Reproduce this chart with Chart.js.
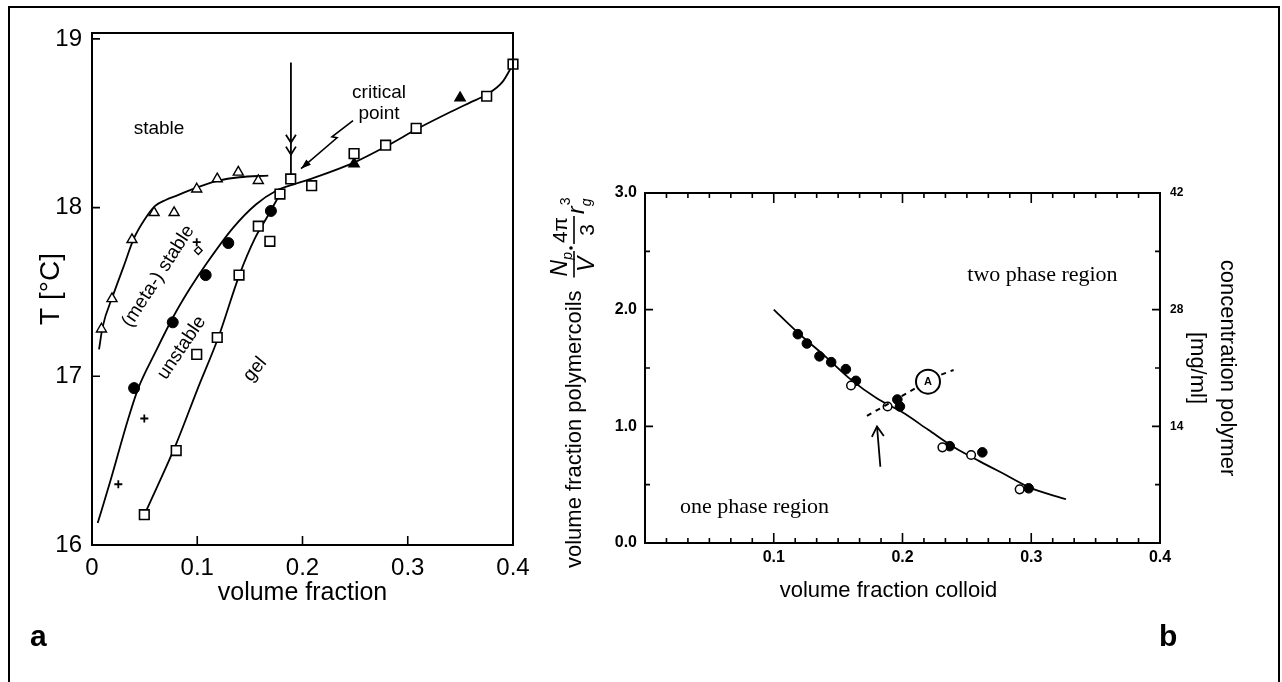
<!DOCTYPE html>
<html>
<head>
<meta charset="utf-8">
<script src="https://cdn.jsdelivr.net/npm/chart.js@4.4.1/dist/chart.umd.min.js"></script>
<style>
  body { margin: 0; background: #fff; width: 1282px; height: 682px; overflow: hidden; position: relative; font-family: "Liberation Sans", Arial, sans-serif; }
  #frame { position: absolute; left: 8px; top: 6px; width: 1272px; height: 700px; border: 2px solid #000; box-sizing: border-box; }
  canvas { position: absolute; top: 0; }
  #left { left: 0; }
  #right { left: 540px; }
  .tag { position: absolute; font-weight: bold; font-size: 30px; line-height: 30px; }
</style>
</head>
<body>
<div id="frame"></div>
<canvas id="left" width="540" height="682"></canvas>
<canvas id="right" width="730" height="682"></canvas>
<div class="tag" style="left:30px;top:621px">a</div>
<div class="tag" style="left:1159px;top:621px">b</div>
<script>
// ---- panel a : T [°C] vs volume fraction ----
const A_X_TICKS = [0, 0.1, 0.2, 0.3, 0.4]
const A_X_LABELS = ["0", "0.1", "0.2", "0.3", "0.4"]
const A_Y_TICKS = [16, 17, 18, 19]
const A_Y_LABELS = ["16", "17", "18", "19"]

const openTriangles = [[0.009, 17.28], [0.019, 17.46], [0.038, 17.81], [0.059, 17.97], [0.078, 17.97],
  [0.0995, 18.11], [0.119, 18.17], [0.139, 18.21], [0.158, 18.16]]
const filledTriangles = [[0.249, 18.26], [0.3497, 18.65]]
const filledCircles = [[0.040, 16.93], [0.0767, 17.32], [0.108, 17.60], [0.1295, 17.79], [0.170, 17.98]]
const plusMarks = [[0.025, 16.36], [0.0497, 16.75], [0.0995, 17.795]]
const diamonds = [[0.101, 17.745]]
const openSquares = [[0.0497, 16.18], [0.080, 16.56], [0.0995, 17.13], [0.119, 17.23], [0.1397, 17.60],
  [0.158, 17.89], [0.169, 17.80], [0.1786, 18.08], [0.1888, 18.17], [0.2087, 18.13], [0.249, 18.32],
  [0.279, 18.37], [0.308, 18.47], [0.375, 18.66], [0.400, 18.85]]

const triangleCurve = [[0.0067, 17.16], [0.01, 17.29], [0.02, 17.48], [0.03, 17.65], [0.04, 17.82],
  [0.05, 17.93], [0.06, 18.01], [0.07, 18.045], [0.08, 18.07], [0.10, 18.12], [0.12, 18.16],
  [0.14, 18.18], [0.1675, 18.19]]
const spinodalCurve = [[0.0054, 16.13], [0.017, 16.37], [0.0345, 16.75], [0.044, 16.93], [0.06, 17.14],
  [0.077, 17.35], [0.093, 17.52], [0.109, 17.67], [0.134, 17.88], [0.156, 18.02], [0.175, 18.10],
  [0.19, 18.135], [0.21, 18.175], [0.25, 18.27], [0.28, 18.365], [0.31, 18.47], [0.34, 18.565],
  [0.36, 18.625], [0.375, 18.67], [0.39, 18.745], [0.40, 18.85]]
const gelCurve = [[0.052, 16.21], [0.08, 16.6], [0.10, 16.92], [0.12, 17.23], [0.14, 17.6],
  [0.155, 17.82], [0.166, 17.94], [0.1786, 18.08]]

// critical point arrow and the jagged pointer
const criticalArrow = [[0.189, 18.86], [0.189, 18.197]]
const criticalChevrons = [18.385, 18.314]
const jaggedPointer = [[0.248, 18.515], [0.228, 18.42], [0.2328, 18.414], [0.1986, 18.231]]

const A_NOTES = [
  { text: "stable", x: 0.0637, y: 18.467, rot: 0 },
  { text: "critical", x: 0.2727, y: 18.68, rot: 0 },
  { text: "point", x: 0.2727, y: 18.556, rot: 0 },
  { text: "(meta-) stable", x: 0.063, y: 17.593, rot: -57 },
  { text: "unstable", x: 0.0852, y: 17.169, rot: -56 },
  { text: "gel", x: 0.1549, y: 17.041, rot: -50 }
]

// ---- panel b : polymer vs colloid volume fraction ----
const B_X_TICKS = [0.1, 0.2, 0.3, 0.4]
const B_X_LABELS = ["0.1", "0.2", "0.3", "0.4"]
const B_Y_TICKS = [0, 1, 2, 3]
const B_Y_LABELS = ["0.0", "1.0", "2.0", "3.0"]
const B_Y2_TICKS = [14, 28, 42]
const B_Y2_LABELS = ["14", "28", "42"]

const bFilled = [[0.1187, 1.79], [0.1257, 1.71], [0.1355, 1.60], [0.1446, 1.55], [0.156, 1.49],
  [0.1638, 1.39], [0.196, 1.23], [0.198, 1.17], [0.2367, 0.83], [0.262, 0.777], [0.298, 0.469]]
const bOpen = [[0.16, 1.35], [0.1884, 1.17], [0.231, 0.82], [0.2533, 0.754], [0.291, 0.46]]
const bCurve = [[0.1, 2.0], [0.12, 1.79], [0.14, 1.6], [0.16, 1.40], [0.18, 1.24], [0.2, 1.12],
  [0.22, 0.97], [0.24, 0.82], [0.26, 0.70], [0.28, 0.585], [0.30, 0.47], [0.327, 0.375]]
const bDashed = [[0.1724, 1.089], [0.2397, 1.483]]
const bCircleA = [0.2198, 1.383]
const bArrow = [[0.1828, 0.654], [0.1802, 0.999]]
const B_NOTES = [
  { text: "two phase region", x: 0.3087, y: 2.297 },
  { text: "one phase region", x: 0.0851, y: 0.3086 }
]

Chart.defaults.font.family = '"Liberation Sans", Arial, sans-serif'
Chart.defaults.color = "#000"

const xy = arr => arr.map(([x, y]) => ({ x, y }))

const markers = (arr, style, radius, fill, bw) => ({
  data: xy(arr), pointStyle: style, pointRadius: radius, pointHoverRadius: radius,
  pointBackgroundColor: fill, pointBorderColor: "#000", pointBorderWidth: bw,
  clip: false, order: 0
})

const curve = arr => ({
  data: xy(arr), showLine: true, pointRadius: 0, pointHoverRadius: 0,
  borderColor: "#000", borderWidth: 1.8, cubicInterpolationMode: "monotone",
  clip: false, order: 1
})

const fixedTicks = values => scale => { scale.ticks = values.map(v => ({ value: v })) }

/**
 * Small tick marks pointing into the plot area
 */
const innerTicks = (chart, specs) => {
  const ctx = chart.ctx
  const a = chart.chartArea
  ctx.save()
  ctx.strokeStyle = "#000"
  ctx.lineWidth = 1.6
  ctx.beginPath()
  specs.forEach(({ scale, side, values, len }) => {
    const s = chart.scales[scale]
    values.forEach(v => {
      const p = s.getPixelForValue(v)
      if (side === "bottom") { ctx.moveTo(p, a.bottom); ctx.lineTo(p, a.bottom - len) }
      if (side === "top") { ctx.moveTo(p, a.top); ctx.lineTo(p, a.top + len) }
      if (side === "left") { ctx.moveTo(a.left, p); ctx.lineTo(a.left + len, p) }
      if (side === "right") { ctx.moveTo(a.right, p); ctx.lineTo(a.right - len, p) }
    })
  })
  ctx.stroke()
  ctx.restore()
}

const frame = chart => {
  const ctx = chart.ctx
  const a = chart.chartArea
  ctx.save()
  ctx.strokeStyle = "#000"
  ctx.lineWidth = 2
  ctx.strokeRect(a.left, a.top, a.right - a.left, a.bottom - a.top)
  ctx.restore()
}

const toPx = (chart, p, yId = "y") => [chart.scales.x.getPixelForValue(p[0]), chart.scales[yId].getPixelForValue(p[1])]

const head = (ctx, tip, from, len, half, filled) => {
  const dx = tip[0] - from[0], dy = tip[1] - from[1]
  const d = Math.hypot(dx, dy)
  const ux = dx / d, uy = dy / d
  const bx = tip[0] - ux * len, by = tip[1] - uy * len
  ctx.beginPath()
  ctx.moveTo(bx - uy * half, by + ux * half)
  ctx.lineTo(tip[0], tip[1])
  ctx.lineTo(bx + uy * half, by - ux * half)
  if (filled) { ctx.closePath(); ctx.fill() } else ctx.stroke()
}

const noteText = (ctx, text, x, y, font, rot) => {
  ctx.save()
  ctx.translate(x, y)
  ctx.rotate((rot || 0) * Math.PI / 180)
  ctx.font = font
  ctx.textAlign = "center"
  ctx.textBaseline = "middle"
  ctx.fillText(text, 0, 0)
  ctx.restore()
}

const panelADecor = {
  id: "panelADecor",
  afterDatasetsDraw(chart) {
    const ctx = chart.ctx
    frame(chart)
    innerTicks(chart, [
      { scale: "x", side: "bottom", values: [0.1, 0.2, 0.3], len: 9 },
      { scale: "y", side: "left", values: [17, 18, 19], len: 8 }
    ])
    ctx.save()
    ctx.strokeStyle = "#000"
    ctx.fillStyle = "#000"
    ctx.lineWidth = 1.8
    // vertical arrow onto the critical point
    const [p0, p1] = criticalArrow.map(p => toPx(chart, p))
    ctx.beginPath(); ctx.moveTo(p0[0], p0[1]); ctx.lineTo(p1[0], p1[1]); ctx.stroke()
    criticalChevrons.forEach(v => {
      const tip = toPx(chart, [criticalArrow[0][0], v])
      head(ctx, tip, [tip[0], tip[1] - 10], 8, 5, false)
    })
    // jagged pointer from the label
    const zz = jaggedPointer.map(p => toPx(chart, p))
    ctx.lineWidth = 1.6
    ctx.beginPath()
    zz.forEach((p, i) => i ? ctx.lineTo(p[0], p[1]) : ctx.moveTo(p[0], p[1]))
    ctx.stroke()
    head(ctx, zz[zz.length - 1], zz[zz.length - 2], 10, 3.5, true)
    A_NOTES.forEach(n => {
      const [x, y] = toPx(chart, [n.x, n.y])
      noteText(ctx, n.text, x, y, '19px "Liberation Sans"', n.rot)
    })
    ctx.restore()
  }
}

const polymerTitle = chart => {
  const ctx = chart.ctx
  const a = chart.chartArea
  const bar = (x0, x1, y) => { ctx.beginPath(); ctx.moveTo(x0, y); ctx.lineTo(x1, y); ctx.stroke() }
  ctx.save()
  ctx.translate(a.left - 70, a.bottom + 25)
  ctx.rotate(-Math.PI / 2)
  ctx.fillStyle = "#000"
  ctx.strokeStyle = "#000"
  ctx.lineWidth = 1.6
  ctx.textBaseline = "middle"
  ctx.textAlign = "left"
  ctx.font = '22px "Liberation Sans"'
  const main = "volume fraction polymercoils"
  ctx.fillText(main, 0, 0)
  let cx = ctx.measureText(main).width + 14
  // N_p / V
  ctx.font = 'italic 23px "Liberation Sans"'
  const wN = ctx.measureText("N").width
  const wV = ctx.measureText("V").width
  ctx.fillText("N", cx, -14)
  ctx.font = 'italic 14px "Liberation Sans"'
  const wp = ctx.measureText("p").width
  ctx.fillText("p", cx + wN, -7)
  const f1 = wN + wp
  ctx.font = 'italic 23px "Liberation Sans"'
  ctx.fillText("V", cx + (f1 - wV) / 2, 13)
  bar(cx - 1, cx + f1 + 1, -1)
  cx += f1 + 4
  ctx.beginPath(); ctx.arc(cx, -4, 1.8, 0, Math.PI * 2); ctx.fill()
  cx += 5
  // 4π / 3
  ctx.font = '21px "Liberation Sans"'
  const w4 = ctx.measureText("4π").width
  const w3 = ctx.measureText("3").width
  ctx.fillText("4π", cx, -14)
  ctx.fillText("3", cx + (w4 - w3) / 2, 13)
  bar(cx - 1, cx + w4 + 1, -1)
  cx += w4 + 3
  // r_g^3
  ctx.font = 'italic 23px "Liberation Sans"'
  const wr = ctx.measureText("r").width
  ctx.fillText("r", cx, 3)
  ctx.font = '14px "Liberation Sans"'
  ctx.fillText("3", cx + wr + 1, -9)
  ctx.font = 'italic 14px "Liberation Sans"'
  ctx.fillText("g", cx + wr, 12)
  ctx.restore()
}

const panelBDecor = {
  id: "panelBDecor",
  afterDatasetsDraw(chart) {
    const ctx = chart.ctx
    const a = chart.chartArea
    frame(chart)
    const minor = [], major = [0.1, 0.2, 0.3]
    for (let i = 1; i < 24; i++) if (i % 6) minor.push(i / 60)
    innerTicks(chart, [
      { scale: "x", side: "bottom", values: major, len: 10 },
      { scale: "x", side: "bottom", values: minor, len: 5 },
      { scale: "x", side: "top", values: major, len: 10 },
      { scale: "x", side: "top", values: minor, len: 5 },
      { scale: "y", side: "left", values: [1, 2], len: 8 },
      { scale: "y", side: "left", values: [0.5, 1.5, 2.5], len: 5 },
      { scale: "y2", side: "right", values: [14, 28], len: 8 },
      { scale: "y2", side: "right", values: [7, 21, 35], len: 5 }
    ])
    ctx.save()
    ctx.strokeStyle = "#000"
    ctx.fillStyle = "#000"
    // dashed tie line through the circled A
    const [d0, d1] = bDashed.map(p => toPx(chart, p))
    const c = toPx(chart, bCircleA)
    const r = 12
    const len = Math.hypot(d1[0] - d0[0], d1[1] - d0[1])
    const ux = (d1[0] - d0[0]) / len, uy = (d1[1] - d0[1]) / len
    ctx.lineWidth = 2
    ctx.setLineDash([5, 5])
    ctx.beginPath()
    ctx.moveTo(d0[0], d0[1]); ctx.lineTo(c[0] - ux * (r + 3), c[1] - uy * (r + 3))
    ctx.moveTo(c[0] + ux * (r + 3), c[1] + uy * (r + 3)); ctx.lineTo(d1[0], d1[1])
    ctx.stroke()
    ctx.setLineDash([])
    ctx.beginPath(); ctx.arc(c[0], c[1], r, 0, Math.PI * 2); ctx.stroke()
    noteText(ctx, "A", c[0], c[1] + 0.5, 'bold 11px "Liberation Sans"', 0)
    // arrow pointing at the critical point
    const [t0, t1] = bArrow.map(p => toPx(chart, p))
    ctx.lineWidth = 1.8
    ctx.beginPath(); ctx.moveTo(t0[0], t0[1]); ctx.lineTo(t1[0], t1[1]); ctx.stroke()
    head(ctx, t1, t0, 10, 6, false)
    B_NOTES.forEach(n => {
      const [x, y] = toPx(chart, [n.x, n.y])
      noteText(ctx, n.text, x, y, '22px "Liberation Serif"', 0)
    })
    noteText(ctx, "volume fraction colloid", (a.left + a.right) / 2 - 14, a.bottom + 48, '22px "Liberation Sans"', 0)
    ctx.restore()
    polymerTitle(chart)
  }
}

new Chart(document.getElementById("left"), {
  type: "scatter",
  data: {
    datasets: [
      markers(openSquares, "rect", 6.8, "#fff", 1.6),
      markers(openTriangles, "triangle", 5.8, "#fff", 1.4),
      markers(filledTriangles, "triangle", 6, "#000", 1.3),
      markers(filledCircles, "circle", 5.5, "#000", 1),
      markers(plusMarks, "cross", 4, "#000", 1.8),
      markers(diamonds, "rectRot", 3.8, "#fff", 1.4),
      curve(triangleCurve),
      curve(spinodalCurve),
      curve(gelCurve)
    ]
  },
  options: {
    responsive: false,
    animation: false,
    devicePixelRatio: 1,
    events: [],
    layout: { padding: { left: 30, top: 33, right: 27, bottom: 67 } },
    plugins: { legend: { display: false }, tooltip: { enabled: false } },
    scales: {
      x: {
        type: "linear", min: 0, max: 0.4,
        afterFit: s => { s.height = 70 },
        afterBuildTicks: fixedTicks(A_X_TICKS),
        ticks: { callback: (v, i) => A_X_LABELS[i], font: { size: 24 }, padding: 9, autoSkip: false, maxRotation: 0 },
        grid: { display: false, drawTicks: false },
        border: { display: false },
        title: { display: true, text: "volume fraction", font: { size: 25 }, padding: { top: 0, bottom: 7 } }
      },
      y: {
        type: "linear", min: 16, max: 19.035,
        afterFit: s => { s.width = 62 },
        afterBuildTicks: fixedTicks(A_Y_TICKS),
        ticks: { callback: (v, i) => A_Y_LABELS[i], font: { size: 24 }, padding: 10, autoSkip: false },
        grid: { display: false, drawTicks: false },
        border: { display: false },
        title: { display: true, text: "T [°C]", font: { size: 28 }, padding: { top: 4, bottom: 0 } }
      }
    }
  },
  plugins: [panelADecor]
})

new Chart(document.getElementById("right"), {
  type: "scatter",
  data: {
    datasets: [
      markers(bOpen, "circle", 4.3, "#fff", 1.5),
      markers(bFilled, "circle", 4.8, "#000", 1),
      curve(bCurve)
    ]
  },
  options: {
    responsive: false,
    animation: false,
    devicePixelRatio: 1,
    events: [],
    layout: { padding: { left: 30, top: 193, right: 20, bottom: 79 } },
    plugins: { legend: { display: false }, tooltip: { enabled: false } },
    scales: {
      x: {
        type: "linear", min: 0, max: 0.4,
        afterFit: s => { s.height = 60 },
        afterBuildTicks: fixedTicks(B_X_TICKS),
        ticks: { callback: (v, i) => B_X_LABELS[i], font: { size: 16, weight: "bold" }, padding: 5, autoSkip: false, maxRotation: 0 },
        grid: { display: false, drawTicks: false },
        border: { display: false }
      },
      y: {
        type: "linear", position: "left", min: 0, max: 3,
        afterFit: s => { s.width = 75 },
        afterBuildTicks: fixedTicks(B_Y_TICKS),
        ticks: { callback: (v, i) => B_Y_LABELS[i], font: { size: 16, weight: "bold" }, padding: 8, autoSkip: false },
        grid: { display: false, drawTicks: false },
        border: { display: false }
      },
      y2: {
        type: "linear", position: "right", min: 0, max: 42,
        afterFit: s => { s.width = 90 },
        afterBuildTicks: fixedTicks(B_Y2_TICKS),
        ticks: { callback: (v, i) => B_Y2_LABELS[i], font: { size: 12, weight: "bold" }, padding: 10, autoSkip: false },
        grid: { display: false, drawTicks: false },
        border: { display: false },
        title: { display: true, text: ["concentration polymer", "[mg/ml]"], font: { size: 22, lineHeight: 1.36 }, padding: { top: 8, bottom: 0 } }
      }
    }
  },
  plugins: [panelBDecor]
})
</script>
</body>
</html>
